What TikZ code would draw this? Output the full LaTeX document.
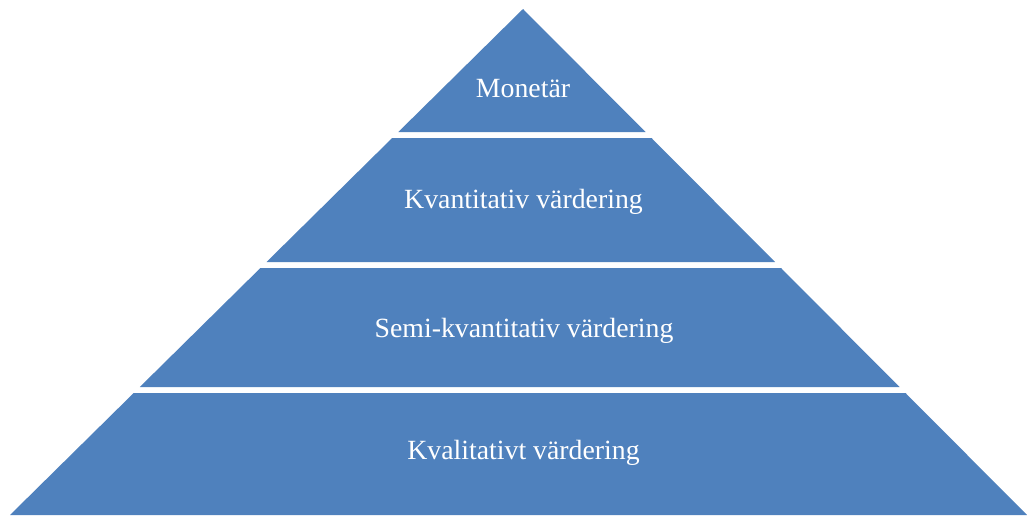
\documentclass[tikz,border=0pt]{standalone}
\usepackage{fontspec}
\setmainfont{Liberation Serif}
\definecolor{band}{HTML}{4F81BD}
\begin{document}
\begin{tikzpicture}[x=1pt,y=-1pt,
  bandfill/.style={fill=band,draw=none},
  lbl/.style={text=white,font=\fontsize{27.8}{31}\selectfont,inner sep=0pt,anchor=base}]
\useasboundingbox (0,0) rectangle (1027,515);
\fill[white] (0,0) rectangle (1027,515);
% bands
\path[bandfill] (523,9) -- (645.5,132) -- (398.3,132) -- cycle;
\path[bandfill] (392.2,138) -- (651.5,138) -- (775,262) -- (266.5,262) -- cycle;
\path[bandfill] (260.4,268) -- (781,268) -- (899.5,387) -- (139.8,387) -- cycle;
\path[bandfill] (133.7,393) -- (905.5,393) -- (1027,515) -- (10,515) -- cycle;
% labels
\node[lbl] (l1) at (523,97.3) {Monetär};
\node[lbl] (l2) at (523.5,208.5) {Kvantitativ värdering};
\node[lbl] (l3) at (524,337.3) {Semi-kvantitativ värdering};
\node[lbl] (l4) at (523.5,459.3) {Kvalitativt värdering};
\end{tikzpicture}
\end{document}
